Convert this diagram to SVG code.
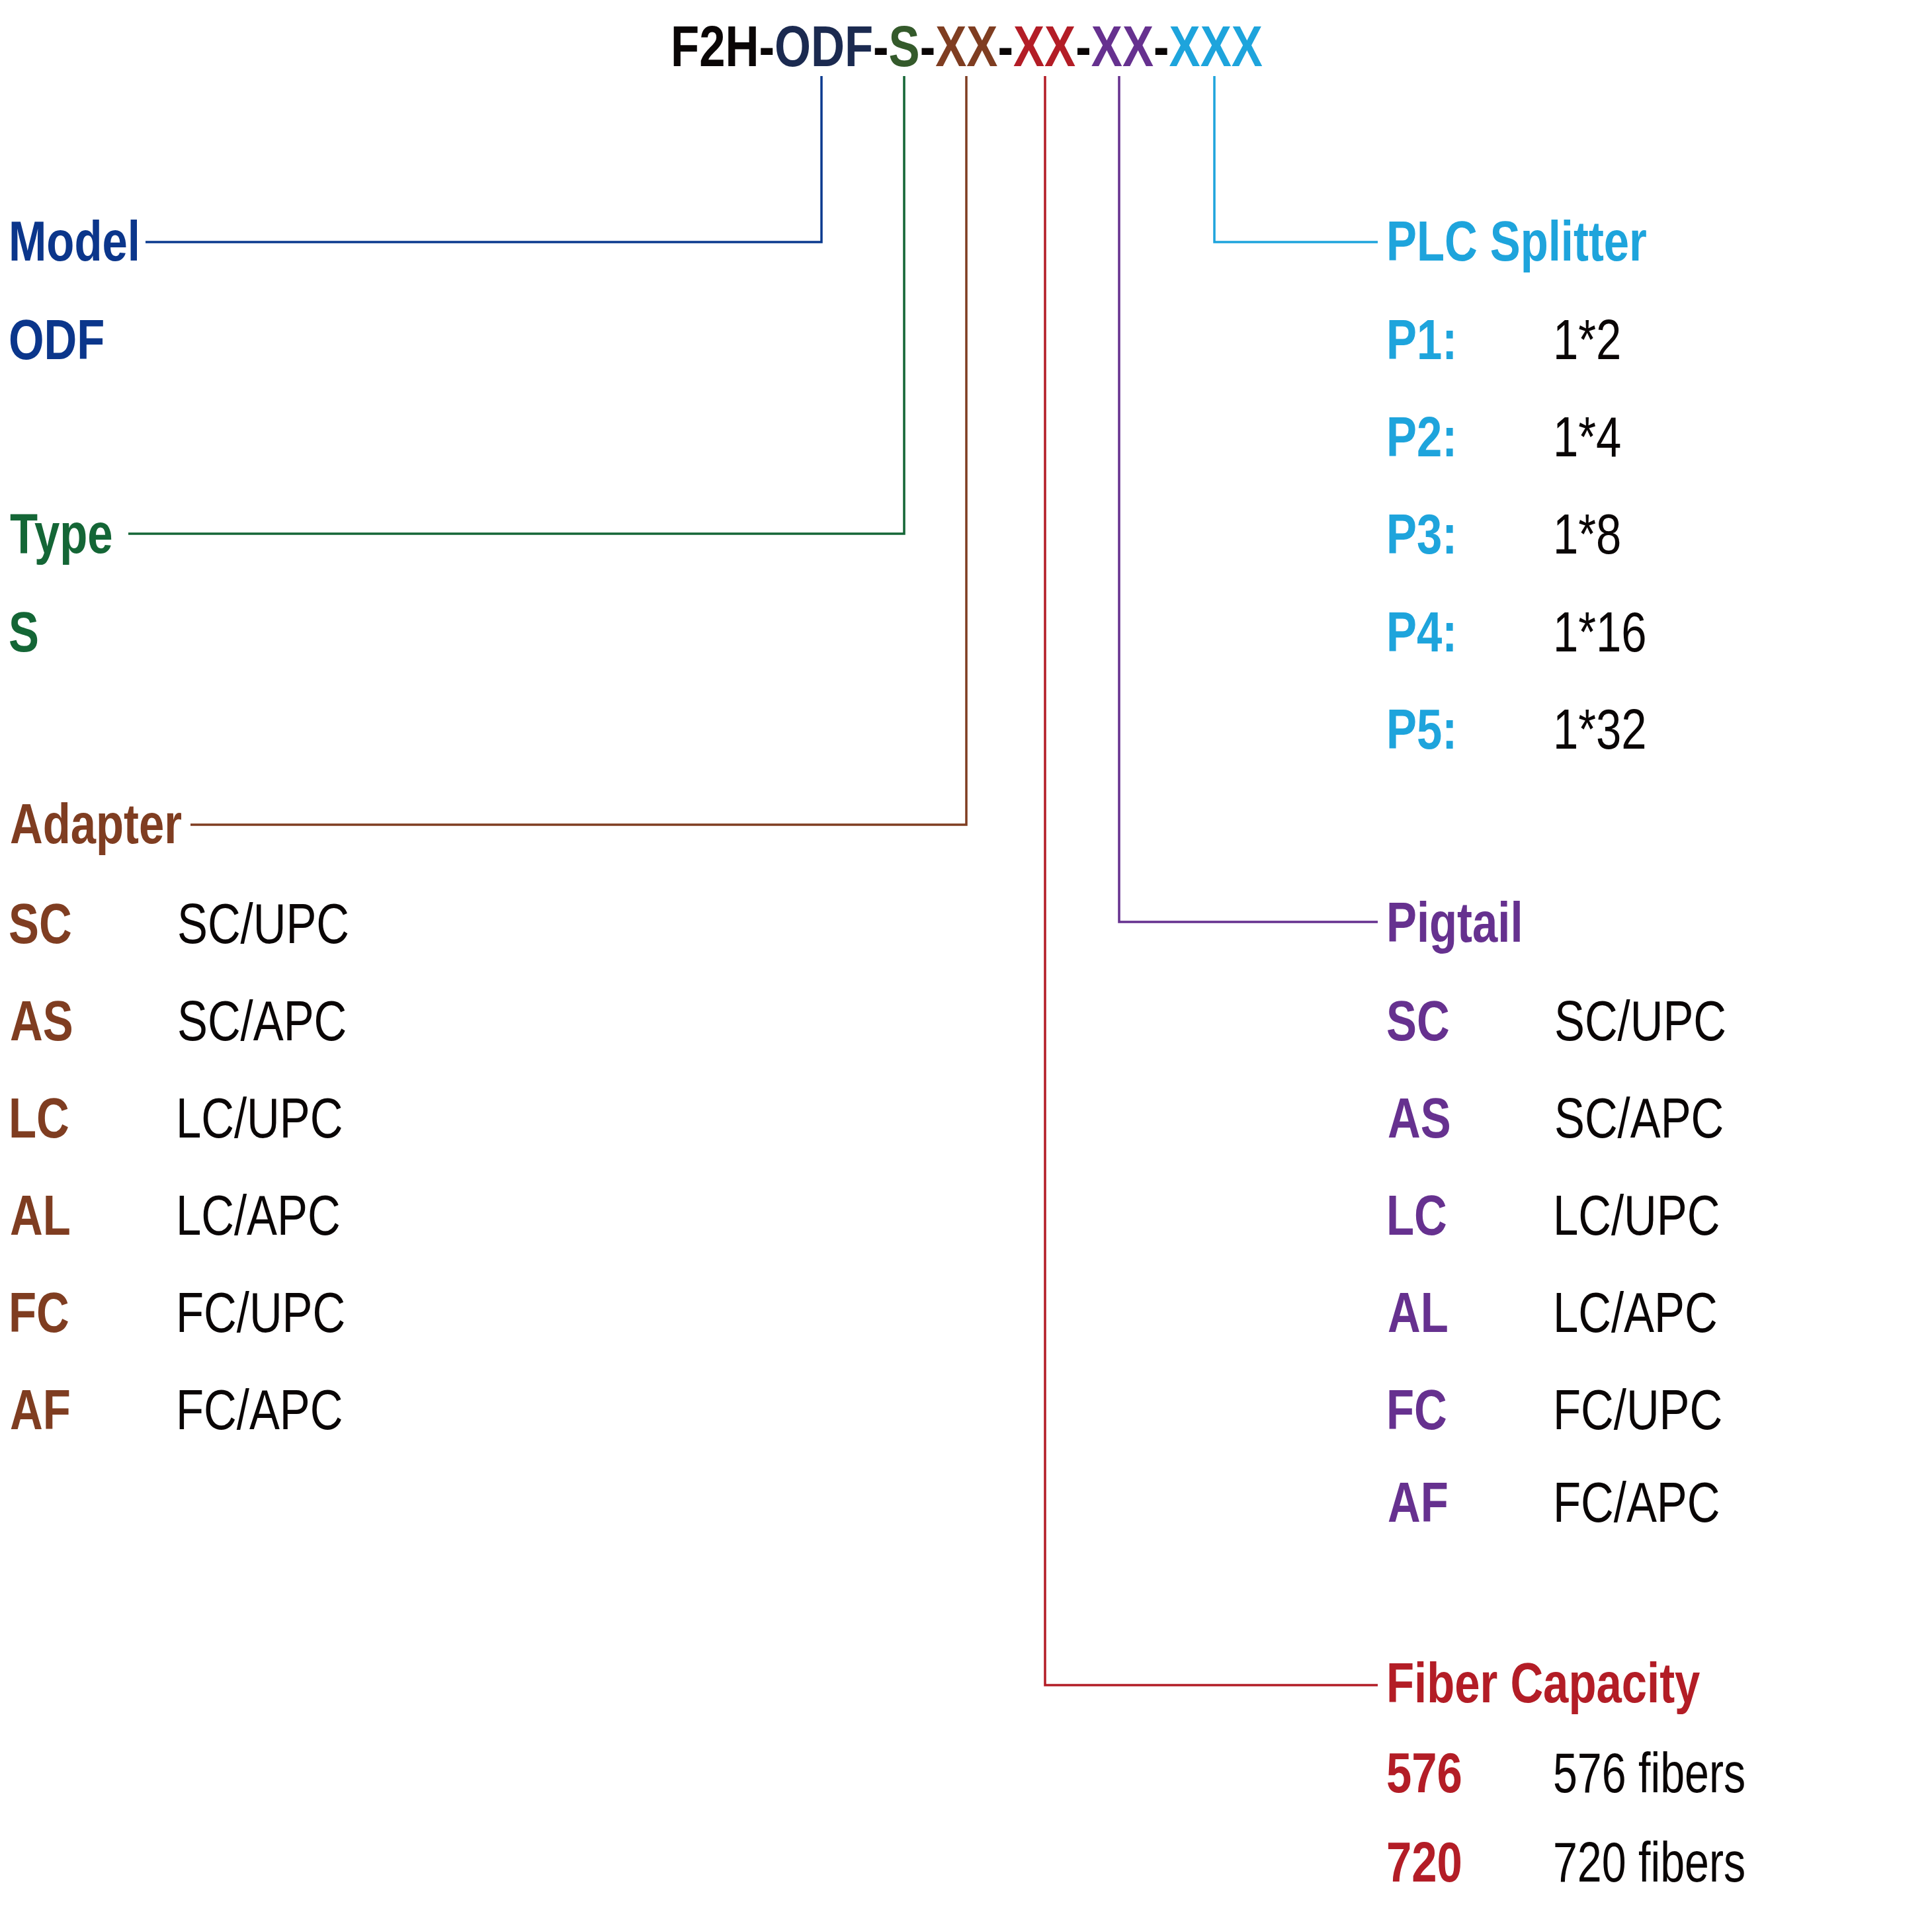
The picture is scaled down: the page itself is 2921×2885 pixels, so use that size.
<svg xmlns="http://www.w3.org/2000/svg" width="2921" height="2885" viewBox="0 0 2921 2885">
<style>
text{font-family:"Liberation Sans",Arial,sans-serif;font-size:85px}
.b{font-weight:bold}
.k{fill:#0a0606}
.nv{fill:#0b368b}.gr{fill:#146636}.br{fill:#7f3d21}.pu{fill:#66318f}.cy{fill:#1ea4dc}.rd{fill:#b31d26}
.ln{fill:none;stroke-width:3.5}
</style>
<rect width="2921" height="2885" fill="#fff"/>
<g id="title">
<text class="b" style="font-size:87px" transform="translate(1014 100) scale(0.812 1)"><tspan class="k">F2H-</tspan><tspan fill="#1b2a50">ODF</tspan><tspan class="k">-</tspan><tspan fill="#345a2b">S</tspan><tspan class="k">-</tspan><tspan class="br">XX</tspan><tspan class="k">-</tspan><tspan class="rd">XX</tspan><tspan class="k">-</tspan><tspan class="pu">XX</tspan><tspan class="k">-</tspan><tspan class="cy">XXX</tspan></text>
</g>
<g id="connectors">
<polyline class="ln" stroke="#0a3a8f" points="1242,115 1242,366 220,366"/>
<polyline class="ln" stroke="#146636" points="1367,115 1367,807 194,807"/>
<polyline class="ln" stroke="#7f3d21" points="1461,115 1461,1247 288,1247"/>
<polyline class="ln" stroke="#b31d26" points="1580,115 1580,2548 2083,2548"/>
<polyline class="ln" stroke="#66318f" points="1692,115 1692,1394 2083,1394"/>
<polyline class="ln" stroke="#1ea4dc" points="1836,115 1836,366 2083,366"/>
</g>
<g id="model">
<text class="b nv" transform="translate(13 394) scale(0.81 1)">Model</text>
<text class="b nv" transform="translate(13 543) scale(0.81 1)">ODF</text>
</g>
<g id="type">
<text class="b gr" transform="translate(15 836) scale(0.81 1)">Type</text>
<text class="b gr" transform="translate(13 985) scale(0.81 1)">S</text>
</g>
<g id="adapter">
<text class="b br" transform="translate(15 1275) scale(0.81 1)">Adapter</text>
<text class="b br" transform="translate(13 1426) scale(0.81 1)">SC</text><text class="k" transform="translate(268 1426) scale(0.81 1)">SC/UPC</text>
<text class="b br" transform="translate(15 1573) scale(0.81 1)">AS</text><text class="k" transform="translate(268 1573) scale(0.81 1)">SC/APC</text>
<text class="b br" transform="translate(13 1720) scale(0.81 1)">LC</text><text class="k" transform="translate(266 1720) scale(0.81 1)">LC/UPC</text>
<text class="b br" transform="translate(15 1867) scale(0.81 1)">AL</text><text class="k" transform="translate(266 1867) scale(0.81 1)">LC/APC</text>
<text class="b br" transform="translate(13 2014) scale(0.81 1)">FC</text><text class="k" transform="translate(266 2014) scale(0.81 1)">FC/UPC</text>
<text class="b br" transform="translate(15 2161) scale(0.81 1)">AF</text><text class="k" transform="translate(266 2161) scale(0.81 1)">FC/APC</text>
</g>
<g id="plc-splitter">
<text class="b cy" transform="translate(2096 394) scale(0.81 1)">PLC Splitter</text>
<text class="b cy" transform="translate(2096 543) scale(0.81 1)">P1:</text><text class="k" transform="translate(2348 543) scale(0.81 1)">1*2</text>
<text class="b cy" transform="translate(2096 690) scale(0.81 1)">P2:</text><text class="k" transform="translate(2348 690) scale(0.81 1)">1*4</text>
<text class="b cy" transform="translate(2096 837) scale(0.81 1)">P3:</text><text class="k" transform="translate(2348 837) scale(0.81 1)">1*8</text>
<text class="b cy" transform="translate(2096 985) scale(0.81 1)">P4:</text><text class="k" transform="translate(2348 985) scale(0.81 1)">1*16</text>
<text class="b cy" transform="translate(2096 1132) scale(0.81 1)">P5:</text><text class="k" transform="translate(2348 1132) scale(0.81 1)">1*32</text>
</g>
<g id="pigtail">
<text class="b pu" transform="translate(2096 1424) scale(0.81 1)">Pigtail</text>
<text class="b pu" transform="translate(2096 1573) scale(0.81 1)">SC</text><text class="k" transform="translate(2350 1573) scale(0.81 1)">SC/UPC</text>
<text class="b pu" transform="translate(2098 1720) scale(0.81 1)">AS</text><text class="k" transform="translate(2350 1720) scale(0.81 1)">SC/APC</text>
<text class="b pu" transform="translate(2096 1867) scale(0.81 1)">LC</text><text class="k" transform="translate(2348 1867) scale(0.81 1)">LC/UPC</text>
<text class="b pu" transform="translate(2098 2014) scale(0.81 1)">AL</text><text class="k" transform="translate(2348 2014) scale(0.81 1)">LC/APC</text>
<text class="b pu" transform="translate(2096 2161) scale(0.81 1)">FC</text><text class="k" transform="translate(2348 2161) scale(0.81 1)">FC/UPC</text>
<text class="b pu" transform="translate(2098 2301) scale(0.81 1)">AF</text><text class="k" transform="translate(2348 2301) scale(0.81 1)">FC/APC</text>
</g>
<g id="fiber-capacity">
<text class="b rd" transform="translate(2096 2574) scale(0.81 1)">Fiber Capacity</text>
<text class="b rd" transform="translate(2096 2710) scale(0.81 1)">576</text><text class="k" transform="translate(2348 2710) scale(0.78 1)">576 fibers</text>
<text class="b rd" transform="translate(2096 2845) scale(0.81 1)">720</text><text class="k" transform="translate(2348 2845) scale(0.78 1)">720 fibers</text>
</g>
</svg>
